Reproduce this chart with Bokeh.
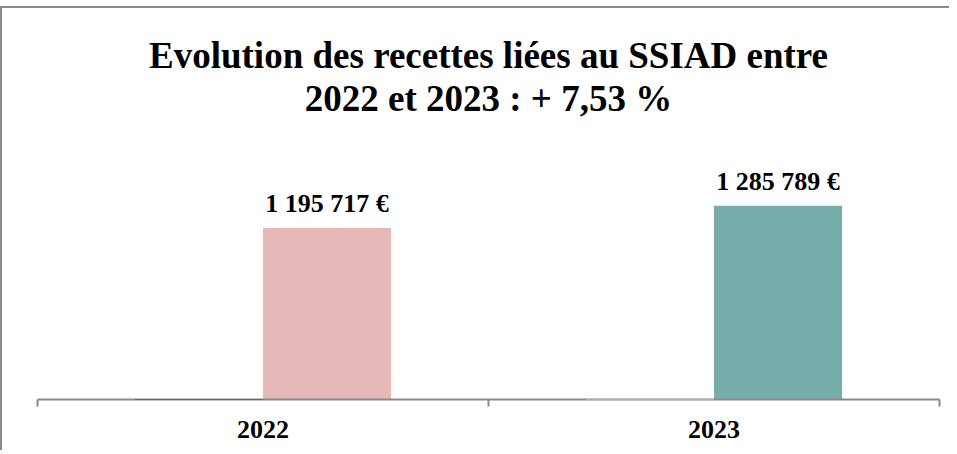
from bokeh.plotting import figure
from bokeh.models import ColumnDataSource, LabelSet, FixedTicker, Range1d, Title
from bokeh.embed import file_html
from bokeh.resources import INLINE

# ---- data ----
categories = ["2022", "2023"]
recettes = [1195717, 1285789]
recettes_colors = ["#E6B8B7", "#76ADA8"]
base_series = [500000, 500000]          # series drawn at the axis baseline
base_colors = ["#4F6A8C", "#95B3D7"]
y_min = 500000
y_max = 1640000

pct = (recettes[1] / recettes[0] - 1) * 100
title_line1 = "Evolution des recettes liées au SSIAD entre"
title_line2 = f"2022 et 2023 : + {pct:.2f} %".replace(".", ",")

BAR_W = 0.284
idx = list(range(len(categories)))
labels = [f"{v:,}".replace(",", " ") + " €" for v in recettes]

src_main = ColumnDataSource(dict(
    x=[i + 0.5 + BAR_W / 2 for i in idx], top=recettes, color=recettes_colors,
    label=labels))
src_base = ColumnDataSource(dict(
    x=[i + 0.5 - BAR_W / 2 for i in idx], top=base_series, color=base_colors))

FONT = "Liberation Serif"
GRAY = "#898989"

p = figure(width=949, height=444, output_backend="svg", toolbar_location=None,
           x_range=Range1d(0, len(categories)), y_range=Range1d(y_min, y_max),
           min_border_left=35, min_border_right=12, min_border_bottom=53,
           min_border_top=110, title=None)
p.styles = {"border-left": f"2px solid {GRAY}", "border-top": f"2px solid {GRAY}",
            "margin-top": "6px"}

# two centred title lines (first added sits closest to the plot)
p.add_layout(Title(text=title_line2, align="center", text_font=FONT,
                   text_font_size="37px", text_font_style="bold",
                   text_color="black", standoff=0), "above")
p.add_layout(Title(text=title_line1, align="center", text_font=FONT,
                   text_font_size="37px", text_font_style="bold",
                   text_color="black", standoff=0), "above")

p.vbar(x="x", top="top", bottom=y_min, width=BAR_W, source=src_main,
       fill_color="color", line_color=None)
p.vbar(x="x", top="top", bottom=y_min, width=BAR_W, source=src_base,
       fill_color="color", line_color="color", line_width=1, level="overlay")

p.add_layout(LabelSet(x="x", y="top", text="label", source=src_main,
                      text_align="center", text_baseline="bottom", y_offset=10,
                      text_font=FONT, text_font_size="26px",
                      text_font_style="bold", text_color="black"))

p.xgrid.visible = False
p.ygrid.visible = False
p.yaxis.visible = False
p.outline_line_color = None

xa = p.xaxis[0]
xa.ticker = FixedTicker(ticks=[i + 0.5 for i in idx],
                        minor_ticks=list(range(len(categories) + 1)))
xa.major_label_overrides = {i + 0.5: c for i, c in zip(idx, categories)}
xa.major_tick_out = 0
xa.major_tick_in = 0
xa.minor_tick_out = 7
xa.minor_tick_in = 0
xa.minor_tick_line_color = GRAY
xa.minor_tick_line_width = 2
xa.axis_line_color = GRAY
xa.axis_line_width = 2
xa.major_label_text_font = FONT
xa.major_label_text_font_size = "26px"
xa.major_label_text_font_style = "bold"
xa.major_label_text_color = "black"
xa.major_label_standoff = 14

open("out.html", "w").write(file_html(p, INLINE))
